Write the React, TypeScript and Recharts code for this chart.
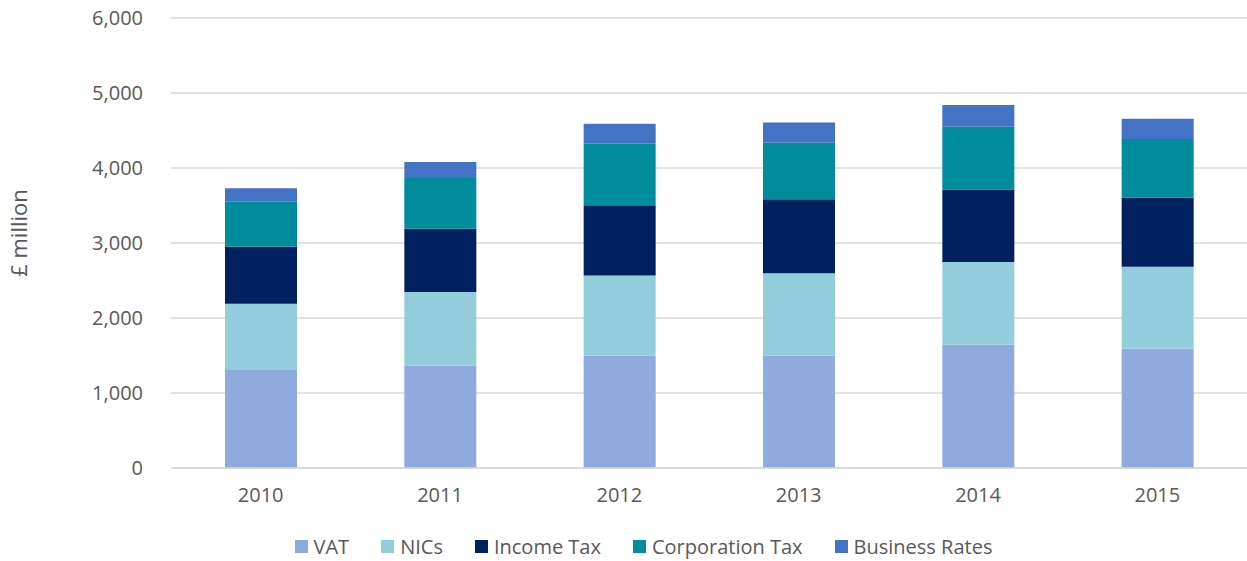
import { BarChart, Bar, XAxis, YAxis, CartesianGrid, Legend } from 'recharts';

const years = ['2010', '2011', '2012', '2013', '2014', '2015'];
const vat = [1307, 1364, 1500, 1500, 1644, 1591];
const nics = [884, 982, 1067, 1097, 1102, 1093];
const incomeTax = [760, 844, 938, 987, 969, 920];
const corporationTax = [600, 676, 818, 752, 835, 783];
const businessRates = [179, 213, 267, 271, 289, 271];
const yTicks = [0, 1000, 2000, 3000, 4000, 5000, 6000];

const series = [
  { key: 'vat', name: 'VAT', color: '#8FAADC' },
  { key: 'nics', name: 'NICs', color: '#93CDDC' },
  { key: 'incomeTax', name: 'Income Tax', color: '#002060' },
  { key: 'corporationTax', name: 'Corporation Tax', color: '#008C9A' },
  { key: 'businessRates', name: 'Business Rates', color: '#4472C4' },
];

const data = years.map((year, i) => ({
  year,
  vat: vat[i],
  nics: nics[i],
  incomeTax: incomeTax[i],
  corporationTax: corporationTax[i],
  businessRates: businessRates[i],
}));

const font = '"Open Sans", sans-serif';
const textColor = '#595959';

function LegendContent() {
  return (
    <div
      style={{
        display: 'flex',
        justifyContent: 'center',
        alignItems: 'center',
        paddingTop: 25,
        paddingLeft: 72,
        fontFamily: font,
        fontSize: 20,
        color: textColor,
      }}
    >
      {series.map((s) => (
        <div key={s.key} style={{ display: 'flex', alignItems: 'center', marginRight: 32 }}>
          <span style={{ width: 13, height: 13, background: s.color, marginRight: 6, display: 'inline-block' }} />
          <span>{s.name}</span>
        </div>
      ))}
    </div>
  );
}

export default function App() {
  return (
    <div style={{ position: 'absolute', left: 0, top: 0, background: '#fff' }}>
      <BarChart
        width={1247}
        height={561}
        data={data}
        margin={{ top: 18, right: 0, bottom: 0, left: 0 }}
        barSize={72}
      >
        <CartesianGrid vertical={false} stroke="#d9d9d9" strokeWidth={1.5} />
        <XAxis
          dataKey="year"
          height={40}
          tickLine={false}
          axisLine={{ stroke: '#d9d9d9', strokeWidth: 1.5 }}
          tick={{ fill: textColor, fontSize: 20, fontFamily: font }}
          tickMargin={14}
        />
        <YAxis
          width={171}
          domain={[0, 6000]}
          ticks={yTicks}
          tickLine={false}
          axisLine={false}
          tickSize={0}
          tickMargin={28}
          tickFormatter={(v: number) => v.toLocaleString('en-GB')}
          tick={{ fill: textColor, fontSize: 20, fontFamily: font }}
          label={{
            content: () => (
              <text
                x={18}
                y={233}
                transform="rotate(-90, 18, 233)"
                textAnchor="middle"
                dominantBaseline="central"
                fill={textColor}
                fontSize={22}
                fontFamily={font}
              >
                £ million
              </text>
            ),
          }}
        />
        <Legend verticalAlign="bottom" height={53} content={<LegendContent />} />
        {series.map((s) => (
          <Bar
            key={s.key}
            dataKey={s.key}
            name={s.name}
            stackId="tax"
            fill={s.color}
            isAnimationActive={false}
          />
        ))}
      </BarChart>
    </div>
  );
}
